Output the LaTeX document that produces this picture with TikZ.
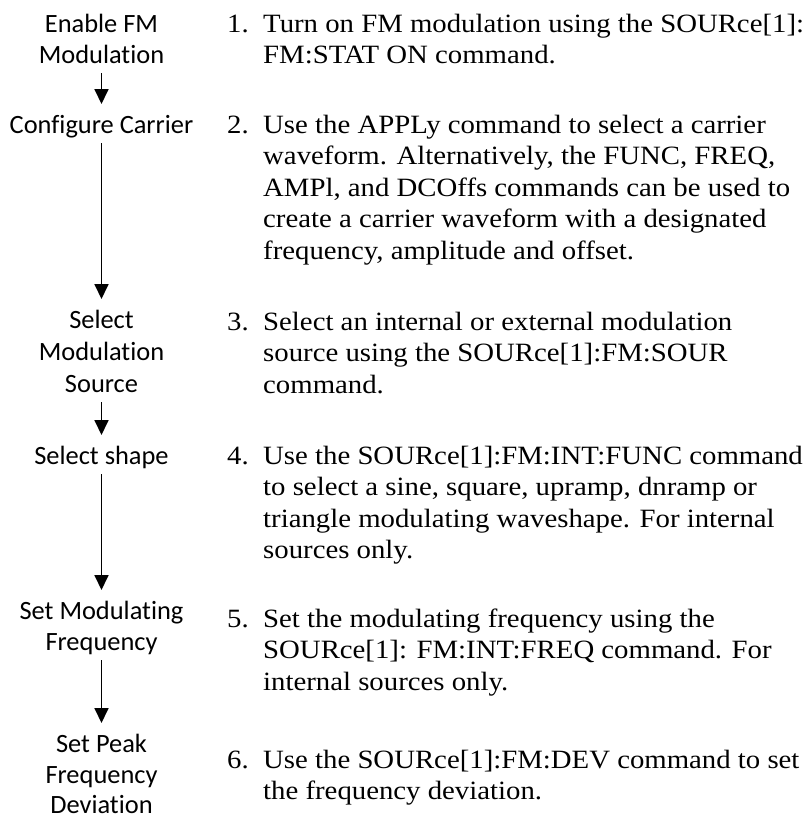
\documentclass[tikz,border=0pt]{standalone}
\usepackage{fontspec}
\setmainfont{Liberation Serif}[FakeStretch=1.09]
\newfontfamily\labelfont{Carlito}[Ligatures={NoCommon}]
\usetikzlibrary{arrows.meta}
\begin{document}
\begin{tikzpicture}[x=1pt,y=-1pt,
  lbl/.style={anchor=base,font=\labelfont\fontsize{26.4}{31}\selectfont,inner sep=0pt},
  txt/.style={anchor=base west,font=\fontsize{26.4}{31.5}\selectfont,inner sep=0pt},
  flow/.style={line width=1.8pt,-{Triangle[length=15pt,width=14pt]}}]
\useasboundingbox (0,0) rectangle (811,815);
% left labels
\node[lbl] (a1) at (101.5,32) {Enable FM};
\node[lbl] (a2) at (101.5,63) {Modulation};
\node[lbl] (b1) at (101.5,133) {Configure Carrier};
\node[lbl] (c1) at (101.5,328) {Select};
\node[lbl] (c2) at (101.5,360) {Modulation};
\node[lbl] (c3) at (101.5,392) {Source};
\node[lbl] (d1) at (101.5,464) {Select shape};
\node[lbl] (e1) at (101.5,619) {Set Modulating};
\node[lbl] (e2) at (101.5,650) {Frequency};
\node[lbl] (f1) at (101.5,752) {Set Peak};
\node[lbl] (f2) at (101.5,783) {Frequency};
\node[lbl] (f3) at (101.5,813) {Deviation};
% arrows
\draw[flow] ([yshift=-10pt]a2.base) -- ([yshift=29pt]b1.base);
\draw[flow] ([yshift=-10pt]b1.base) -- ([yshift=29pt]c1.base);
\draw[flow] ([yshift=-10pt]c3.base) -- ([yshift=29pt]d1.base);
\draw[flow] ([yshift=-10pt]d1.base) -- ([yshift=29pt]e1.base);
\draw[flow] ([yshift=-10pt]e2.base) -- ([yshift=29pt]f1.base);
% numbers
\node[txt] (n1) at (227,32) {1.};
\node[txt] (n2) at (227,133) {2.};
\node[txt] (n3) at (227,330) {3.};
\node[txt] (n4) at (227,464) {4.};
\node[txt] (n5) at (227,627) {5.};
\node[txt] (n6) at (227,768) {6.};
% step texts
\node[txt] (s1a) at (263,32) {Turn on FM modulation using the SOURce[1]:};
\node[txt] (s1b) at (263,63.5) {FM:STAT ON command.};
\node[txt] (s2a) at (263,133) {Use the APPLy command to select a carrier};
\node[txt] (s2b) at (263,164.5) {waveform. Alternatively, the FUNC, FREQ,};
\node[txt] (s2c) at (263,196) {AMPl, and DCOffs commands can be used to};
\node[txt] (s2d) at (263,227.5) {create a carrier waveform with a designated};
\node[txt] (s2e) at (263,259) {frequency, amplitude and offset.};
\node[txt] (s3a) at (263,330) {Select an internal or external modulation};
\node[txt] (s3b) at (263,361.5) {source using the SOURce[1]:FM:SOUR};
\node[txt] (s3c) at (263,393) {command.};
\node[txt] (s4a) at (263,464) {Use the SOURce[1]:FM:INT:FUNC command};
\node[txt] (s4b) at (263,495.5) {to select a sine, square, upramp, dnramp or};
\node[txt] (s4c) at (263,527) {triangle modulating waveshape. For internal};
\node[txt] (s4d) at (263,558.5) {sources only.};
\node[txt] (s5a) at (263,627) {Set the modulating frequency using the};
\node[txt] (s5b) at (263,658.5) {SOURce[1]: FM:INT:FREQ command. For};
\node[txt] (s5c) at (263,690) {internal sources only.};
\node[txt] (s6a) at (263,768) {Use the SOURce[1]:FM:DEV command to set};
\node[txt] (s6b) at (263,799.5) {the frequency deviation.};
\end{tikzpicture}
\end{document}
